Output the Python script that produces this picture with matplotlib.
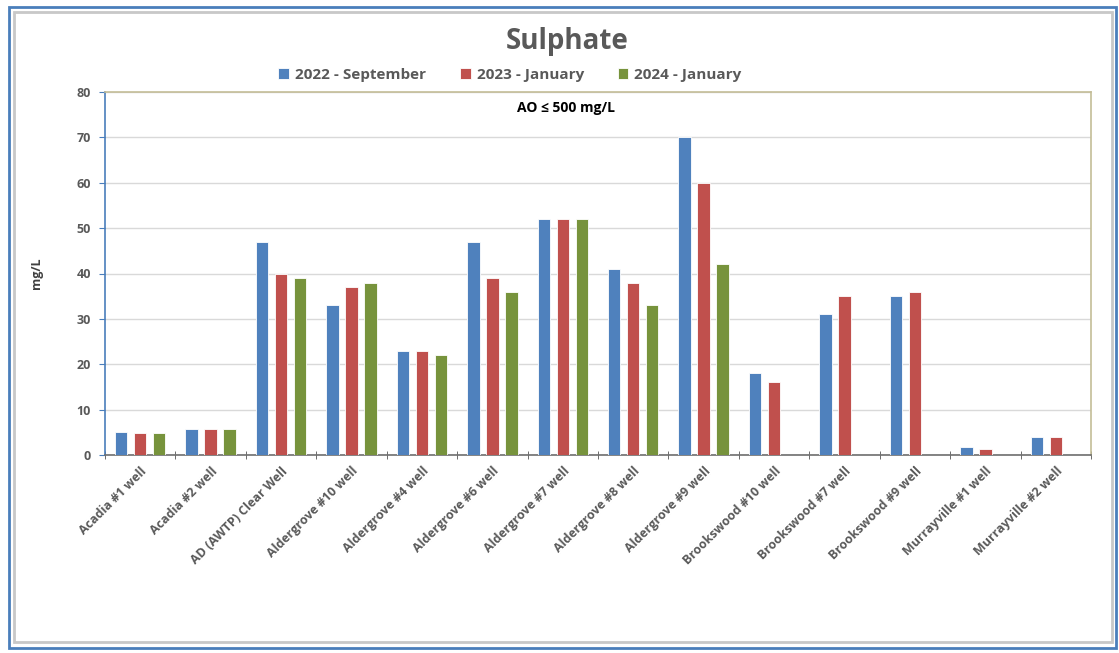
import matplotlib.pyplot as plt
import numpy as np
from matplotlib.patches import Rectangle

categories = ["Acadia #1 well", "Acadia #2 well", "AD (AWTP) Clear Well",
              "Aldergrove #10 well", "Aldergrove #4 well", "Aldergrove #6 well",
              "Aldergrove #7 well", "Aldergrove #8 well", "Aldergrove #9 well",
              "Brookswood #10 well", "Brookswood #7 well", "Brookswood #9 well",
              "Murrayville #1 well", "Murrayville #2 well"]
series_names = ["2022 - September", "2023 - January", "2024 - January"]
sep_2022 = [5.1, 5.8, 47, 33, 23, 47, 52, 41, 70, 18, 31, 35, 1.7, 4.0]
jan_2023 = [4.8, 5.8, 40, 37, 23, 39, 52, 38, 60, 16, 35, 36, 1.4, 4.0]
jan_2024 = [4.8, 5.8, 39, 38, 22, 36, 52, 33, 42, np.nan, np.nan, np.nan, np.nan, np.nan]
colors = ["#4F81BD", "#C0504D", "#77933C"]
yticks = [0, 10, 20, 30, 40, 50, 60, 70, 80]

plt.rcParams['font.family'] = ['Open Sans', 'DejaVu Sans']
W, H = 1119, 653
fig = plt.figure(figsize=(W/100, H/100), dpi=100)

# outer frame
fig.patches.append(Rectangle((9/W, 1-648/H), (1116-9)/W, (648-7)/H, transform=fig.transFigure,
                             fill=False, edgecolor="#4A7EBB", linewidth=2.0))
fig.patches.append(Rectangle((14/W, 1-642/H), (1112-14)/W, (642-12)/H, transform=fig.transFigure,
                             fill=False, edgecolor="#C8C8C8", linewidth=2.0))

left, right, top, bottom = 105, 1091, 92, 455
ax = fig.add_axes([left/W, 1-bottom/H, (right-left)/W, (bottom-top)/H])

x = np.arange(len(categories))
off = 0.27
bw = 0.175
for i, (vals, c, name) in enumerate(zip([sep_2022, jan_2023, jan_2024], colors, series_names)):
    ax.bar(x + (i-1)*off, vals, width=bw, color=c, edgecolor="white", linewidth=0.6,
           label=name, zorder=3)

ax.set_xlim(-0.5, len(categories)-0.5)
ax.set_ylim(0, 80)
ax.set_yticks(yticks)
ax.grid(axis='y', color="#D9D9D9", linewidth=1.0, zorder=0)
ax.set_xticks(x)
ax.set_xticklabels(categories, rotation=45, ha='right', rotation_mode='anchor',
                   fontsize=9, fontweight='bold', color="#595959")
ax.tick_params(axis='x', which='major', length=0, pad=7)
ax.set_xticks(np.arange(-0.5, len(categories)+0.5, 1), minor=True)
ax.tick_params(axis='x', which='minor', length=6, direction='inout', color="#555555")
ax.tick_params(axis='y', length=4, direction='out', color="#4A7EBB", labelsize=9,
               labelcolor="#595959", pad=6)
for lab in ax.get_yticklabels():
    lab.set_fontweight('bold')

ax.spines['left'].set_color("#4A7EBB")
ax.spines['bottom'].set_color("#6E6E6E")
ax.spines['top'].set_color("#C4BD97")
ax.spines['right'].set_color("#C4BD97")
for s in ax.spines.values():
    s.set_linewidth(1.2)

ax.set_ylabel("mg/L", fontsize=9, fontweight='bold', color="#404040")
ax.yaxis.set_label_coords((43-left)/(right-left), 0.5)

fig.text(567/W, 1-42/H, "Sulphate", ha='center', va='center', fontsize=20,
         fontweight='bold', color="#595959")
ax.text(0.468, 0.955, "AO ≤ 500 mg/L", transform=ax.transAxes, ha='center', va='center',
        fontsize=10, fontweight='bold', color="#000000")

leg = fig.legend(loc='center', bbox_to_anchor=(510/W, 1-75/H), ncol=3, frameon=False,
                 handlelength=0.7, handleheight=0.7, handletextpad=0.4,
                 columnspacing=2.2, prop={'weight': 'bold', 'size': 11})
for t in leg.get_texts():
    t.set_color("#595959")

fig.savefig("out.png", dpi=100)
